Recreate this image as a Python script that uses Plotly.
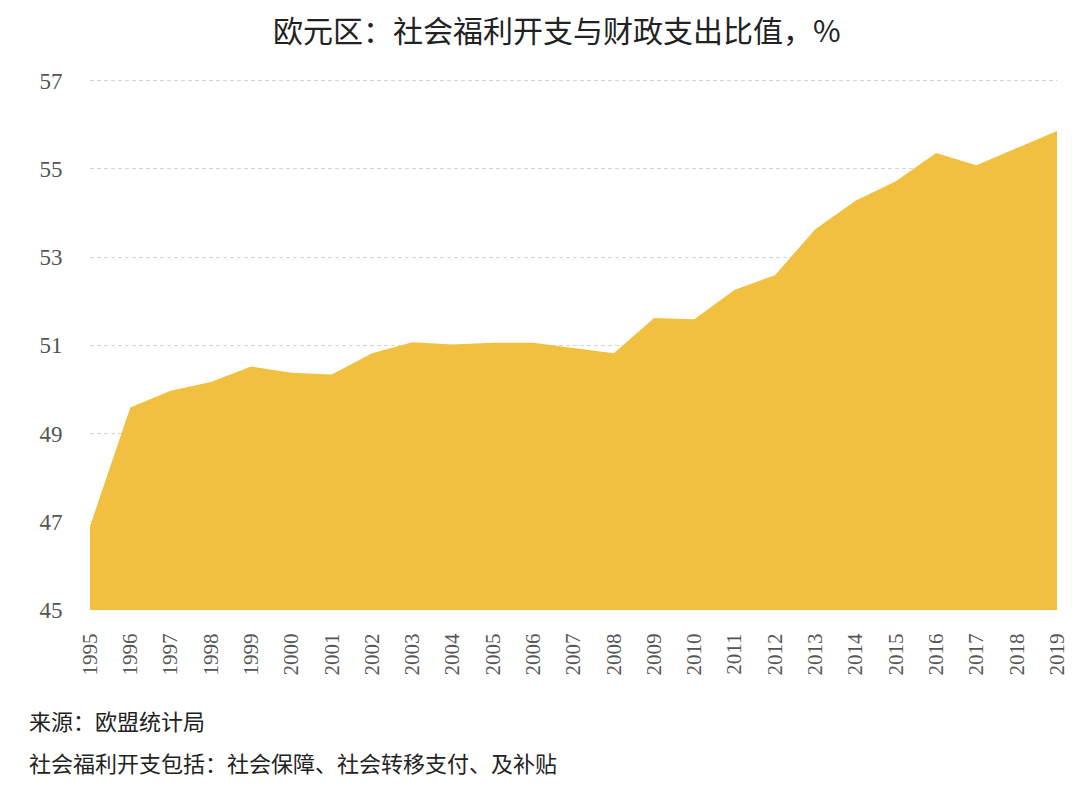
import plotly.graph_objects as go

years = list(range(1995, 2020))
values = [46.9, 49.59, 49.97, 50.17, 50.52, 50.38, 50.34, 50.82, 51.07, 51.02,
          51.06, 51.06, 50.94, 50.82, 51.62, 51.59, 52.26, 52.59, 53.63, 54.28,
          54.72, 55.36, 55.08, 55.47, 55.86]
y_ticks = [45, 47, 49, 51, 53, 55, 57]

title = "欧元区：社会福利开支与财政支出比值，%"
note1 = "来源：欧盟统计局"
note2 = "社会福利开支包括：社会保障、社会转移支付、及补贴"

fig = go.Figure()
fig.add_trace(go.Scatter(
    x=years, y=values, mode="lines", fill="tozeroy",
    line=dict(width=0, color="#F2C040"), fillcolor="#F2C040",
    hoverinfo="x+y",
))

fig.update_layout(
    width=1072, height=780,
    margin=dict(l=82, r=23, t=70, b=178),
    paper_bgcolor="white", plot_bgcolor="white",
    showlegend=False,
    xaxis=dict(
        range=[1995, 2019], tickmode="array", tickvals=years,
        ticktext=[str(y) for y in years], tickangle=-90,
        tickfont=dict(family="Liberation Serif", size=21, color="#555"),
        showgrid=False, zeroline=False, showline=False,
        ticks="outside", ticklen=14, tickcolor="rgba(0,0,0,0)",
    ),
    yaxis=dict(
        range=[45, 57.06], tickmode="array", tickvals=y_ticks,
        tickfont=dict(family="Liberation Serif", size=23, color="#555"),
        showgrid=True, gridcolor="#d4d4d4", griddash="4px,3px", gridwidth=1,
        zeroline=False, showline=False,
        ticks="outside", ticklen=22, tickcolor="rgba(0,0,0,0)",
    ),
    annotations=[
        dict(text=title, xref="paper", yref="paper", x=0.483, y=1.093,
             xanchor="center", yanchor="middle", showarrow=False,
             font=dict(family="Noto Sans CJK SC", size=30, color="#222")),
        dict(text=note1, xref="paper", yref="paper", x=-0.065, y=-0.207,
             xanchor="left", yanchor="middle", showarrow=False,
             font=dict(family="Noto Sans CJK SC", size=22, color="#222")),
        dict(text=note2, xref="paper", yref="paper", x=-0.065, y=-0.286,
             xanchor="left", yanchor="middle", showarrow=False,
             font=dict(family="Noto Sans CJK SC", size=22, color="#222")),
    ],
)

fig.write_html("out.html")
